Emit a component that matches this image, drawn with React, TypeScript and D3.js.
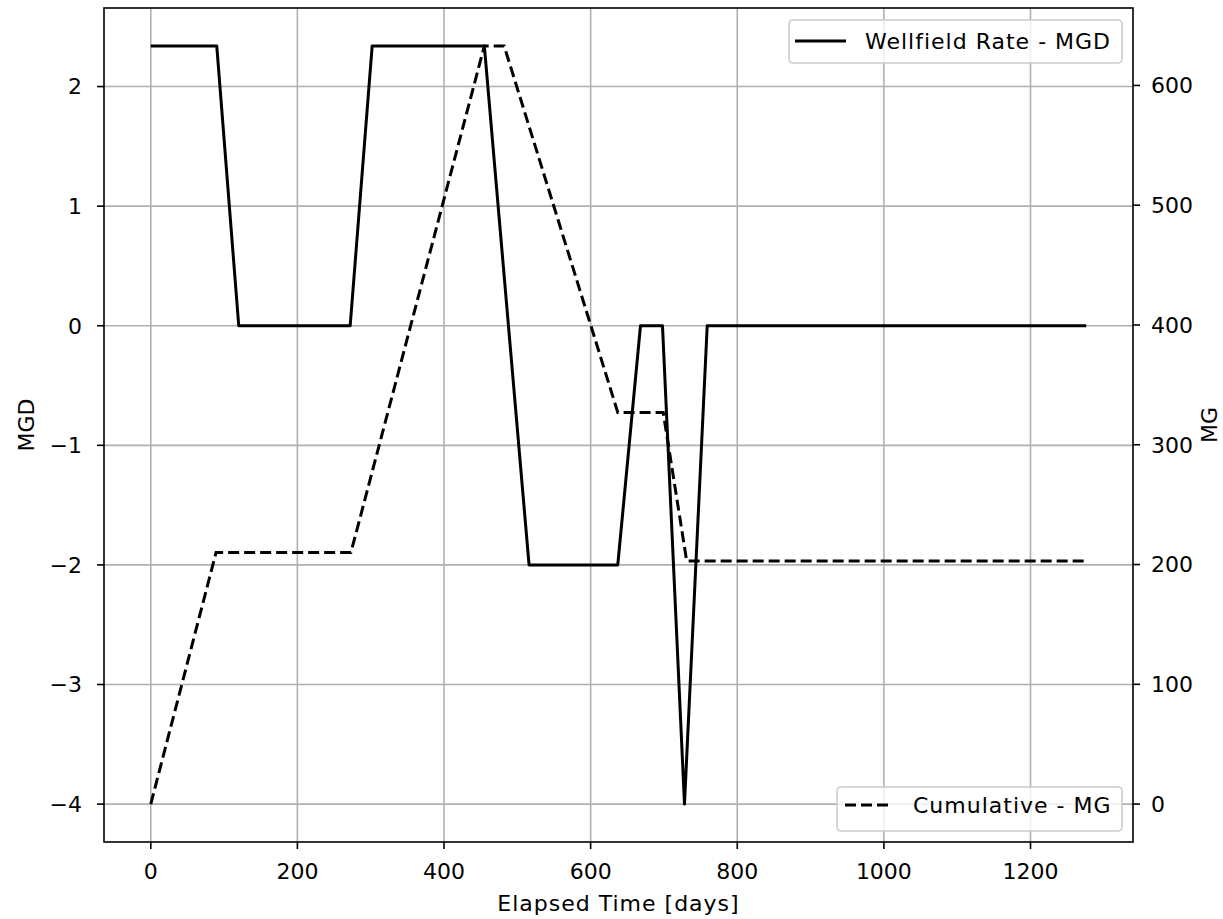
import * as d3 from "d3";

// chart values
const rateDays = [0, 90, 120, 272, 302, 455, 516, 637, 668, 698, 728, 759, 1276];
const rateMGD = [2.34, 2.34, 0, 0, 2.34, 2.34, -2, -2, 0, 0, -4, 0, 0];
const cumDays = [0, 89, 273, 455, 482, 637, 699, 731, 1276];
const cumMG = [0, 210, 210, 633, 633, 327, 327, 203, 203];

const xTicks = [0, 200, 400, 600, 800, 1000, 1200];
const leftTicks = [-4, -3, -2, -1, 0, 1, 2];
const rightTicks = [0, 100, 200, 300, 400, 500, 600];

const W = 1223;
const H = 919;
const margin = { top: 8, right: 90, bottom: 77, left: 104 };
const FONT = "'DejaVu Sans', sans-serif";
const FS = 22;

// matplotlib style 5% padding around the data range
const pad = (lo: number, hi: number) => {
  const d = (hi - lo) * 0.05;
  return [lo - d, hi + d];
};

const fmt = (v: number) => (v < 0 ? "\u2212" + Math.abs(v) : String(v));

export default function App() {
  const x0 = margin.left;
  const x1 = W - margin.right;
  const y0 = margin.top;
  const y1 = H - margin.bottom;

  const allDays = rateDays.concat(cumDays);
  const x = d3
    .scaleLinear()
    .domain(pad(d3.min(allDays)!, d3.max(allDays)!))
    .range([x0, x1]);
  const yL = d3
    .scaleLinear()
    .domain(pad(d3.min(rateMGD)!, d3.max(rateMGD)!))
    .range([y1, y0]);
  const yR = d3
    .scaleLinear()
    .domain(pad(d3.min(cumMG)!, d3.max(cumMG)!))
    .range([y1, y0]);

  const rateLine = d3
    .line<number>()
    .x((d, i) => x(rateDays[i]))
    .y((d) => yL(d))(rateMGD);
  const cumLine = d3
    .line<number>()
    .x((d, i) => x(cumDays[i]))
    .y((d) => yR(d))(cumMG);

  const tick = 7;
  const cy = (y0 + y1) / 2;

  return (
    <svg
      width={W}
      height={H}
      style={{ position: "absolute", left: 0, top: 0, background: "white" }}
      fontFamily={FONT}
      fontSize={FS}
    >
      <rect x={0} y={0} width={W} height={H} fill="white" />
      <defs>
        <clipPath id="plot">
          <rect x={x0} y={y0} width={x1 - x0} height={y1 - y0} />
        </clipPath>
      </defs>

      {/* grid */}
      <g stroke="#b0b0b0" strokeWidth={1.6}>
        {xTicks.map((t) => (
          <line key={"gx" + t} x1={x(t)} x2={x(t)} y1={y0} y2={y1} />
        ))}
        {leftTicks.map((t) => (
          <line key={"gy" + t} x1={x0} x2={x1} y1={yL(t)} y2={yL(t)} />
        ))}
      </g>

      {/* data */}
      <g clipPath="url(#plot)" fill="none" stroke="#000" strokeWidth={3}>
        <path d={rateLine!} strokeLinejoin="round" />
        <path d={cumLine!} strokeDasharray="11,5" />
      </g>

      {/* frame */}
      <rect x={x0} y={y0} width={x1 - x0} height={y1 - y0} fill="none" stroke="#000" strokeWidth={1.6} />

      {/* x axis */}
      {xTicks.map((t) => (
        <g key={"xt" + t}>
          <line x1={x(t)} x2={x(t)} y1={y1} y2={y1 + tick} stroke="#000" strokeWidth={1.6} />
          <text x={x(t)} y={y1 + 37} textAnchor="middle" fill="#000">
            {fmt(t)}
          </text>
        </g>
      ))}
      <text x={(x0 + x1) / 2} y={H - 8} textAnchor="middle" fill="#000" letterSpacing={1}>
        Elapsed Time [days]
      </text>

      {/* left axis */}
      {leftTicks.map((t) => (
        <g key={"yl" + t}>
          <line x1={x0 - tick} x2={x0} y1={yL(t)} y2={yL(t)} stroke="#000" strokeWidth={1.6} />
          <text x={x0 - 22} y={yL(t)} dy="0.36em" textAnchor="end" fill="#000">
            {fmt(t)}
          </text>
        </g>
      ))}
      <text transform={`translate(34,${cy}) rotate(-90)`} textAnchor="middle" fill="#000">
        MGD
      </text>

      {/* right axis */}
      {rightTicks.map((t) => (
        <g key={"yr" + t}>
          <line x1={x1} x2={x1 + tick} y1={yR(t)} y2={yR(t)} stroke="#000" strokeWidth={1.6} />
          <text x={x1 + 18} y={yR(t)} dy="0.36em" textAnchor="start" fill="#000">
            {fmt(t)}
          </text>
        </g>
      ))}
      <text transform={`translate(1217,${cy}) rotate(-90)`} textAnchor="middle" fill="#000">
        MG
      </text>

      {/* legend: upper right */}
      <g>
        <rect x={789} y={20} width={333} height={43} rx={4} fill="white" fillOpacity={0.8} stroke="#cccccc" strokeWidth={1.6} />
        <line x1={795} x2={846} y1={41} y2={41} stroke="#000" strokeWidth={3} />
        <text x={865} y={41} dy="0.36em" fill="#000" letterSpacing={1}>
          Wellfield Rate - MGD
        </text>
      </g>

      {/* legend: lower right */}
      <g>
        <rect x={837} y={787} width={285} height={44} rx={4} fill="white" fillOpacity={0.8} stroke="#cccccc" strokeWidth={1.6} />
        <line x1={845} x2={893} y1={805} y2={805} stroke="#000" strokeWidth={3} strokeDasharray="11,5" />
        <text x={913} y={805} dy="0.36em" fill="#000" letterSpacing={1}>
          Cumulative - MG
        </text>
      </g>
    </svg>
  );
}
